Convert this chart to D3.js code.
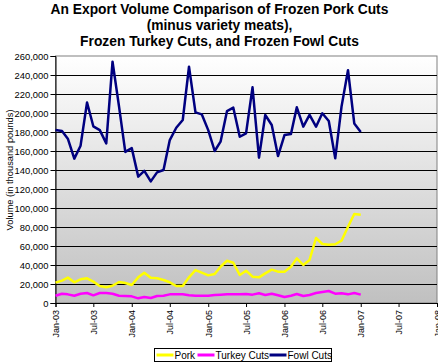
<!DOCTYPE html>
<html>
<head>
<meta charset="utf-8">
<script src="https://cdn.jsdelivr.net/npm/d3@7"></script>
<style>
	body { margin: 0; background: #fff; }
	svg { display: block; font-family: Arial, "Liberation Sans", sans-serif; }
</style>
</head>
<body>
<svg width="438" height="363"></svg>
<script>
var titleLines = ["An Export Volume Comparison of Frozen Pork Cuts", "(minus variety meats),", "Frozen Turkey Cuts, and Frozen Fowl Cuts"];
var yTitle = "Volume (in thousand pounds)";

// monthly points Jan-03 .. Jan-07
var firstMonth = new Date(2003, 0, 1);
var lastMonth = new Date(2007, 0, 1);
var months = d3.timeMonth.range(firstMonth, d3.timeMonth.offset(lastMonth, 1));

var pork = [21400, 23500, 26700, 21800, 24900, 26000, 22500, 17900, 16500, 18200,
	22100, 21000, 18900, 27000, 31900, 26700, 26000, 24200, 21800, 17900,
	17900, 27000, 34700, 31900, 29100, 30500, 38200, 44500, 42400, 29500,
	34000, 27700, 27000, 31200, 35100, 33000, 33000, 38200, 47000, 40000,
	45300, 68400, 62100, 61400, 61800, 65600, 80300, 93700, 93000];
var turkey = [7700, 9800, 9100, 7700, 9800, 10500, 8100, 10500, 10500, 9800,
	7700, 7400, 7000, 4900, 6300, 5300, 7400, 7700, 9100, 9100,
	9100, 8100, 7700, 7700, 7700, 8400, 8800, 9100, 9100, 9100,
	9500, 8800, 10200, 8400, 9800, 8100, 6300, 7700, 9500, 7400,
	8400, 10500, 11600, 12600, 9800, 10200, 9100, 10500, 8800];
var fowl = [182000, 181000, 173000, 152000, 165600, 211000, 186000, 182000, 168000, 254000,
	207000, 159000, 163000, 133000, 139000, 128000, 137500, 140000, 171500, 184500,
	192600, 248700, 200700, 198600, 182000, 160000, 169800, 202000, 205600, 175000,
	178600, 227000, 153000, 197900, 187400, 154700, 176800, 177900, 206000, 185600,
	198000, 185600, 199700, 191600, 152300, 206700, 245000, 189000, 180000];

var seriesNames = ["Pork", "Turkey Cuts", "Fowl Cuts"];
var seriesColors = ["#ffff00", "#ff00ff", "#000080"];
var seriesValues = [pork, turkey, fowl];

var yMax = 260000, yStep = 20000;
var xStart = new Date(2003, 0, 1), xEnd = new Date(2008, 0, 1);

var svg = d3.select("svg");
var margin = {top: 56, right: 1, bottom: 60, left: 55.5},
	width = +svg.attr("width") - margin.left - margin.right,
	height = +svg.attr("height") - margin.top - margin.bottom;

// title
svg.append("g").selectAll("text")
	.data(titleLines)
	.enter().append("text")
	.attr("x", 219.5)
	.attr("y", function(d, i) { return 14 + i * 16; })
	.attr("text-anchor", "middle")
	.attr("font-size", "13.8px")
	.attr("font-weight", "bold")
	.text(function(d) { return d; });

var x = d3.scaleTime().domain([xStart, xEnd]).range([0, width]);
var y = d3.scaleLinear().domain([0, yMax]).range([height, 0]);

var defs = svg.append("defs");
var grad = defs.append("linearGradient")
	.attr("id", "bg")
	.attr("x1", 0).attr("y1", 0).attr("x2", 0).attr("y2", 1);
grad.append("stop").attr("offset", "0%").attr("stop-color", "#ffffff");
grad.append("stop").attr("offset", "100%").attr("stop-color", "#c0c0c0");

var g = svg.append("g")
	.attr("transform", "translate(" + margin.left + "," + margin.top + ")");

g.append("rect")
	.attr("width", width)
	.attr("height", height)
	.attr("fill", "url(#bg)")
	.attr("stroke", "#808080")
	.attr("stroke-width", 1);

// gridlines
g.append("g").selectAll("line")
	.data(d3.range(yStep, yMax, yStep))
	.enter().append("line")
	.attr("x1", 0).attr("x2", width)
	.attr("y1", function(d) { return Math.round(y(d)) + 0.5; })
	.attr("y2", function(d) { return Math.round(y(d)) + 0.5; })
	.attr("stroke", "#000")
	.attr("stroke-width", 1);

// y axis
var yAxis = g.append("g")
	.call(d3.axisLeft(y)
		.tickValues(d3.range(0, yMax + 1, yStep))
		.tickSize(5)
		.tickPadding(2)
		.tickFormat(d3.format(",")));
yAxis.selectAll("text").attr("font-size", "9.4px").attr("fill", "#000");
yAxis.select(".domain").attr("stroke", "#000");

// x axis
var xAxis = g.append("g")
	.attr("transform", "translate(0," + height + ")")
	.call(d3.axisBottom(x)
		.ticks(d3.timeMonth.every(6))
		.tickSize(4)
		.tickFormat(d3.timeFormat("%b-%y")));
xAxis.select(".domain").attr("stroke", "#000");
xAxis.selectAll("text")
	.attr("font-size", "9px")
	.attr("fill", "#000")
	.attr("transform", "rotate(-90)")
	.attr("text-anchor", "end")
	.attr("dy", "0.35em")
	.attr("x", -7)
	.attr("y", 0);

// y title
svg.append("text")
	.attr("transform", "translate(13,170) rotate(-90)")
	.attr("text-anchor", "middle")
	.attr("font-size", "9.3px")
	.text(yTitle);

// lines
var line = d3.line()
	.x(function(d, i) { return x(months[i]); })
	.y(function(d) { return y(d); });

g.append("g").selectAll("path")
	.data(seriesValues)
	.enter().append("path")
	.attr("fill", "none")
	.attr("stroke", function(d, i) { return seriesColors[i]; })
	.attr("stroke-width", 2.5)
	.attr("stroke-linejoin", "round")
	.attr("d", line);

// legend
var legend = svg.append("g").attr("transform", "translate(154.5,348.5)");
legend.append("rect")
	.attr("width", 177)
	.attr("height", 13)
	.attr("fill", "#fff")
	.attr("stroke", "#000");
var legendX = [2, 43, 115];
var item = legend.selectAll("g.item")
	.data(seriesNames)
	.enter().append("g")
	.attr("class", "item")
	.attr("transform", function(d, i) { return "translate(" + legendX[i] + ",0)"; });
item.append("line")
	.attr("x1", 0).attr("x2", 17)
	.attr("y1", 6.5).attr("y2", 6.5)
	.attr("stroke", function(d, i) { return seriesColors[i]; })
	.attr("stroke-width", 3);
item.append("text")
	.attr("x", 18)
	.attr("y", 10.5)
	.attr("font-size", "10px")
	.text(function(d) { return d; });
</script>
</body>
</html>
